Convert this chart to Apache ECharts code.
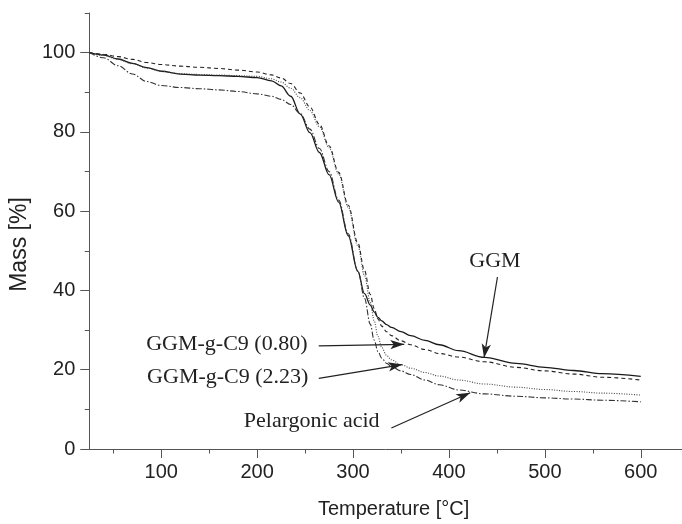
<!DOCTYPE html>
<html>
<head>
<meta charset="utf-8">
<script src="https://cdn.jsdelivr.net/npm/echarts@6/dist/echarts.min.js"></script>
<style>
  html, body { margin: 0; padding: 0; background: #fff; }
  #tga { width: 682px; height: 524px; }
</style>
</head>
<body>
<div id="tga"></div>
<script>
// temperatures [°C] shared by all four curves
var temps = [25, 40, 55, 70, 85, 100, 120, 140, 160, 180, 200, 215, 225, 235, 245, 255, 265, 275, 285, 295,
             305, 312, 318, 322, 326, 330, 335, 340, 350, 360, 375, 390, 410, 437, 470, 500, 530, 560, 600];

// mass [%]
var ggm = [100, 99.4, 98.4, 97.3, 96.2, 95.3, 94.6, 94.35, 94.2, 94.0, 93.7, 92.9, 91.6, 89.0, 84.5, 79.8, 74.8, 69.2, 62.3, 53.8,
           44.8, 39.2, 36.3, 34.6, 33.2, 32.3, 31.4, 30.7, 29.6, 28.6, 27.4, 26.3, 24.8, 23.1, 21.6, 20.6, 19.8, 19.0, 18.3];
var c9low = [100, 99.6, 99.0, 98.3, 97.5, 97.0, 96.6, 96.3, 96.0, 95.6, 95.1, 94.4, 93.6, 92.2, 89.8, 86.3, 81.9, 76.5, 69.8, 61.5,
             52.0, 45.0, 39.0, 35.5, 32.8, 31.0, 29.6, 28.6, 27.3, 26.3, 25.1, 24.1, 23.2, 22.0, 20.6, 19.7, 18.9, 18.1, 17.4];
var c9high = [100, 99.3, 98.3, 97.2, 96.1, 95.3, 94.7, 94.5, 94.35, 94.2, 94.0, 93.4, 92.6, 91.0, 88.6, 85.4, 81.3, 76.0, 69.4, 61.0,
              51.3, 43.8, 37.0, 32.4, 28.4, 25.6, 23.6, 22.5, 21.3, 20.4, 19.3, 18.4, 17.4, 16.4, 15.6, 15.0, 14.5, 14.1, 13.6];
var pelargonic = [100, 98.7, 96.7, 94.6, 92.7, 91.7, 91.2, 90.9, 90.6, 90.2, 89.6, 89.0, 88.2, 86.9, 84.6, 80.7, 75.8, 70.0, 62.8, 54.3,
                  45.0, 38.0, 31.5, 27.5, 24.6, 22.9, 21.6, 20.8, 19.7, 18.8, 17.4, 16.2, 14.9, 13.9, 13.3, 12.9, 12.6, 12.3, 11.9];

var xMajor = [100, 200, 300, 400, 500, 600];
var xMinor = [50, 100, 150, 200, 250, 300, 350, 400, 450, 500, 550, 600];
var yMajor = [0, 20, 40, 60, 80, 100];
var yMinor = [0, 10, 20, 30, 40, 50, 60, 70, 80, 90, 100, 110];

// annotation arrows and labels, in data coordinates
var arrows = [
    [[450.6, 43.4], [436.6, 23.0]],
    [[264.3, 26.0], [353.4, 26.4]],
    [[264.3, 17.8], [351.3, 21.3]],
    [[340, 5.3], [422.2, 14.2]]
];
var labels = [
    { text: 'GGM', at: [448, 47.4], align: 'center' },
    { text: 'GGM-g-C9 (0.80)', at: [252.5, 26.4], align: 'right' },
    { text: 'GGM-g-C9 (2.23)', at: [253.5, 18.1], align: 'right' },
    { text: 'Pelargonic acid', at: [327.7, 7.0], align: 'right' }
];

function pairs(ys) {
    return temps.map(function (t, i) { return [t, ys[i]]; });
}

var ink = '#222';
var axisColor = '#555';
var sans = '"Liberation Sans", Arial, sans-serif';
var serif = '"Liberation Serif", "Times New Roman", serif';

var chart = echarts.init(document.getElementById('tga'), null, { renderer: 'canvas' });

function curve(name, ys, type, width, color) {
    return {
        name: name,
        type: 'line',
        data: pairs(ys),
        showSymbol: false,
        smooth: 0.35,
        smoothMonotone: 'x',
        lineStyle: { color: color, width: width, type: type },
        animation: false,
        silent: true
    };
}

var option = {
    backgroundColor: '#fff',
    animation: false,
    grid: { left: 80, right: 0, top: 13, bottom: 63 },
    xAxis: [{
        type: 'value', min: 25, max: 643,
        axisLine: { show: true, lineStyle: { color: axisColor, width: 1 } },
        axisTick: { show: true, customValues: xMinor, length: 4.5, lineStyle: { color: axisColor } },
        axisLabel: { show: false },
        splitLine: { show: false }
    }, {
        type: 'value', min: 25, max: 643, position: 'bottom',
        axisLine: { show: false },
        axisTick: { show: true, customValues: xMajor, length: 9, lineStyle: { color: axisColor } },
        axisLabel: { customValues: xMajor, margin: 13, color: ink, fontFamily: sans, fontSize: 20 },
        splitLine: { show: false },
        name: 'Temperature [°C]',
        nameLocation: 'middle',
        nameGap: 50,
        nameTextStyle: { color: ink, fontFamily: sans, fontSize: 20, padding: [0, 0, 0, 16] }
    }],
    yAxis: [{
        type: 'value', min: 0, max: 110,
        axisLine: { show: true, lineStyle: { color: axisColor, width: 1 } },
        axisTick: { show: true, customValues: yMinor, length: 4.5, lineStyle: { color: axisColor } },
        axisLabel: { show: false },
        splitLine: { show: false }
    }, {
        type: 'value', min: 0, max: 110, position: 'left',
        axisLine: { show: false },
        axisTick: { show: true, customValues: yMajor, length: 9, lineStyle: { color: axisColor } },
        axisLabel: { customValues: yMajor, margin: 14, color: ink, fontFamily: sans, fontSize: 20 },
        splitLine: { show: false },
        name: 'Mass [%]',
        nameLocation: 'middle',
        nameGap: 57,
        nameTextStyle: { color: ink, fontFamily: sans, fontSize: 23, padding: [0, 27, 0, 0] }
    }],
    series: [
        curve('GGM', ggm, 'solid', 1.3, '#1a1a1a'),
        curve('GGM-g-C9 (0.80)', c9low, [4, 3], 1.1, '#222'),
        curve('GGM-g-C9 (2.23)', c9high, [1, 1.5], 1.1, '#444'),
        curve('Pelargonic acid', pelargonic, [6, 2, 1.5, 2], 1.1, '#333'),
        {
            type: 'line',
            data: [],
            silent: true,
            markLine: {
                silent: true,
                animation: false,
                symbol: ['none', 'arrow'],
                symbolSize: [7, 14],
                label: { show: false },
                lineStyle: { color: ink, width: 1.2, type: 'solid' },
                emphasis: { disabled: true },
                data: arrows.map(function (a) {
                    return [{ coord: a[0] }, { coord: a[1] }];
                })
            }
        }
    ]
};

chart.setOption(option);

chart.setOption({
    graphic: labels.map(function (l) {
        var p = chart.convertToPixel({ gridIndex: 0 }, l.at);
        return {
            type: 'text',
            x: p[0],
            y: p[1],
            silent: true,
            style: {
                text: l.text,
                fill: ink,
                font: '22px ' + serif,
                textAlign: l.align,
                textVerticalAlign: 'middle'
            }
        };
    })
});

window.addEventListener('resize', function () {
    chart.resize();
});
</script>
</body>
</html>
